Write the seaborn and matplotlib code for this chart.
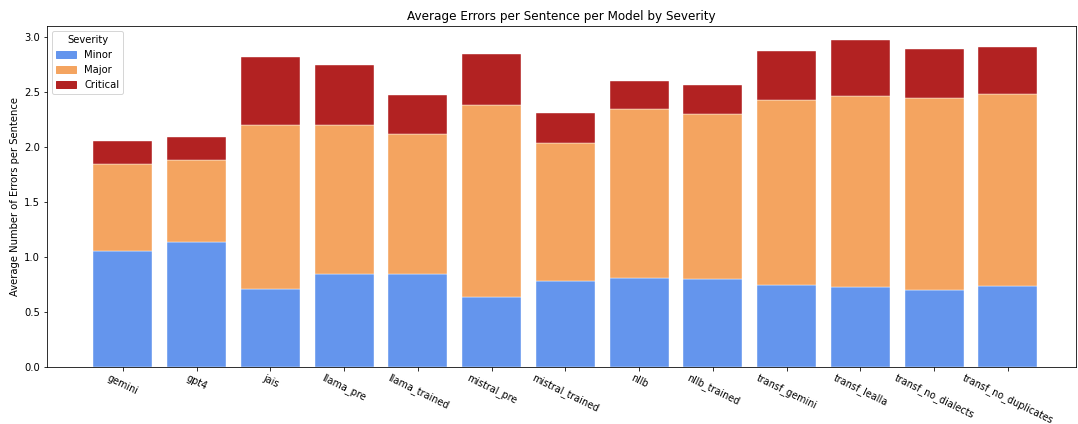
import matplotlib
matplotlib.use("Agg")
import matplotlib.pyplot as plt
import matplotlib.patches as mpatches
import seaborn as sns
import pandas as pd
import numpy as np

models = ["gemini", "gpt4", "jais", "llama_pre", "llama_trained", "mistral_pre",
          "mistral_trained", "nllb", "nllb_trained", "transf_gemini", "transf_lealla",
          "transf_no_dialects", "transf_no_duplicates"]
minor = [1.053, 1.132, 0.711, 0.849, 0.842, 0.638, 0.784, 0.812, 0.797, 0.748, 0.723, 0.696, 0.739]
major = [0.797, 0.751, 1.493, 1.349, 1.273, 1.746, 1.252, 1.535, 1.502, 1.679, 1.743, 1.749, 1.746]
critical = [0.204, 0.208, 0.610, 0.549, 0.358, 0.458, 0.269, 0.254, 0.268, 0.448, 0.504, 0.443, 0.424]

severities = ["Minor", "Major", "Critical"]
colors = ["#6495ED", "#F4A460", "#B22222"]

df = pd.DataFrame({"model": models, "Minor": minor, "Major": major, "Critical": critical})

fig = plt.figure(figsize=(1078 / 72, 424 / 72), dpi=72)
ax = fig.add_axes([0.0436, 0.1344, 0.955, 0.8043])

bottom = np.zeros(len(models))
for sev, col in zip(severities, colors):
    sns.barplot(data=df, x="model", y=sev, bottom=bottom, color=col, saturation=1,
                width=0.8, edgecolor="white", linewidth=0.4, ax=ax, errorbar=None)
    bottom = bottom + df[sev].values

ax.set_xlim(-1.03, 12.93)
ax.set_ylim(0, 3.1)
ax.set_yticks([0.0, 0.5, 1.0, 1.5, 2.0, 2.5, 3.0])
ax.set_xlabel("")
ax.set_ylabel("Average Number of Errors per Sentence", fontsize=10)
ax.set_title("Average Errors per Sentence per Model by Severity", fontsize=12)
ax.tick_params(axis="x", pad=2, labelsize=9.6)
plt.setp(ax.get_xticklabels(), rotation=-26, ha="center")

handles = [mpatches.Patch(color=c, label=s) for s, c in zip(severities, colors)]
ax.legend(handles=handles, title="Severity", loc="upper left")

fig.savefig("out.png", dpi=72)
